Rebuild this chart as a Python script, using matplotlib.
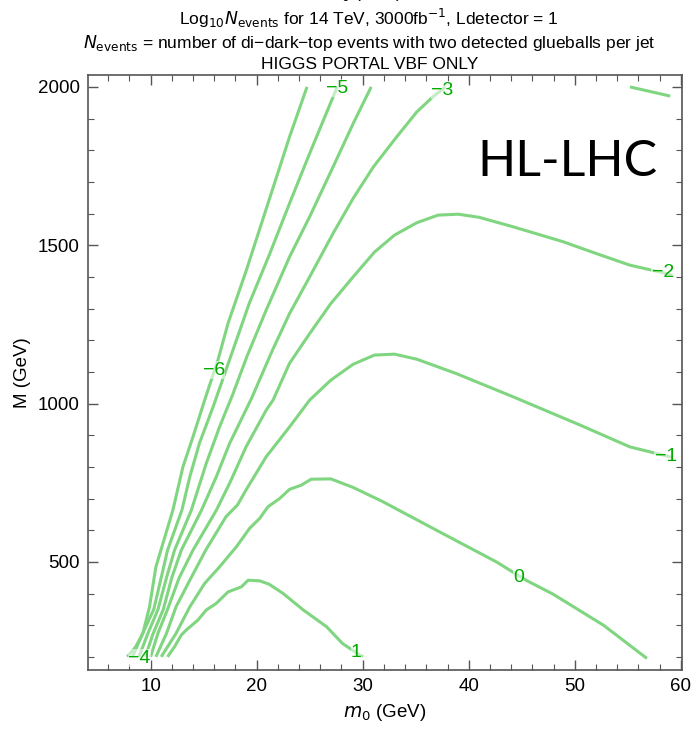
import matplotlib
matplotlib.use("Agg")
import matplotlib.pyplot as plt
from matplotlib.ticker import MultipleLocator

plt.rcParams['font.family'] = ['Liberation Sans', 'DejaVu Sans']

# ---- contour data (m0 [GeV], M [GeV]) ----
levels = [-6, -5, -4, -3, -2, -1, 0, 1]

c_m6_m0 = [7.8, 8.6, 9.27, 9.9, 10.5, 11.16, 12.1, 13.05, 14.0, 15.1, 16.35, 17.3, 19.03, 21.07, 23.1, 24.75]
c_m6_M  = [200, 232, 274, 358, 484, 558, 663, 800, 895, 1011, 1137, 1253, 1421, 1632, 1842, 2000]

c_m5_m0 = [8.3, 9.2, 10.3, 11.0, 11.6, 12.95, 13.7, 14.6, 15.9, 17.1, 18.3, 19.3, 21.2, 23.1, 25.0, 27.6]
c_m5_M  = [200, 270, 350, 450, 537, 663, 769, 874, 990, 1105, 1220, 1316, 1470, 1632, 1790, 2000]

c_m4_m0 = [8.9, 9.7, 10.7, 11.5, 12.26, 13.84, 15.25, 16.5, 17.76, 19.1, 20.9, 23.1, 25.0, 27.2, 29.1, 30.8]
c_m4_M  = [200, 270, 350, 450, 537, 663, 811, 926, 1030, 1150, 1295, 1463, 1590, 1747, 1884, 2000]

c_m3_m0 = [9.5, 10.2, 11.2, 12.0, 12.9, 14.8, 16.2, 17.45, 19.5, 21.5, 23.1, 25.0, 27.2, 29.1, 31.0, 33.2, 35.1, 36.6, 37.8]
c_m3_M  = [200, 270, 350, 450, 537, 663, 769, 874, 1015, 1169, 1284, 1400, 1537, 1648, 1747, 1842, 1921, 1968, 2000]

c_m3b_m0 = [55.2, 59.0]
c_m3b_M  = [2000, 1971]

c_m2_m0 = [10.0, 10.7, 11.6, 12.7, 14.0, 16.2, 17.45, 19.0, 20.9, 21.55, 23.1, 25.0, 27.0, 29.1, 31.1, 33.0, 35.1,
           37.1, 39.0, 41.0, 44.2, 48.9, 52.0, 55.2, 58.6, 59.2]
c_m2_M  = [200, 275, 350, 450, 537, 663, 748, 863, 979, 1011, 1127, 1221, 1316, 1400, 1478, 1532, 1571,
           1595, 1598, 1588, 1558, 1511, 1474, 1437, 1411, 1405]

c_m1_m0 = [10.5, 11.5, 12.4, 13.7, 15.2, 17.1, 18.2, 19.0, 20.9, 23.1, 25.0, 27.0, 29.1, 31.1, 33.0, 35.1,
           38.8, 44.2, 50.5, 55.2, 59.2]
c_m1_M  = [200, 274, 358, 442, 537, 642, 680, 727, 832, 926, 1011, 1074, 1124, 1153, 1156, 1140,
           1095, 1021, 932, 863, 830]

c_0_m0 = [11.0, 12.4, 13.7, 15.1, 16.5, 18.1, 19.34, 20.28, 21.07, 22.17, 23.1, 24.2, 25.14, 27.0, 29.1,
          31.9, 36.95, 42.6, 45.4, 47.95, 52.7, 56.8]
c_0_M  = [200, 274, 358, 432, 484, 548, 606, 637, 674, 700, 729, 742, 761, 762, 735,
          690, 600, 500, 442, 398, 300, 195]

c_1_m0 = [11.6, 12.26, 12.9, 13.37, 14.46, 15.25, 16.2, 17.3, 18.56, 19.2, 20.3, 21.2, 22.5, 24.4, 26.6, 28.1, 30.0]
c_1_M  = [200, 232, 269, 285, 316, 348, 369, 405, 421, 442, 440, 429, 400, 348, 295, 242, 200]

contours = [
    (c_m6_m0, c_m6_M), (c_m5_m0, c_m5_M), (c_m4_m0, c_m4_M), (c_m3_m0, c_m3_M),
    (c_m3b_m0, c_m3b_M), (c_m2_m0, c_m2_M), (c_m1_m0, c_m1_M), (c_0_m0, c_0_M), (c_1_m0, c_1_M),
]

# contour labels: text, m0, M
label_text = ["\u22126", "\u22125", "\u22124", "\u22123", "\u22122", "\u22121", "0", "1"]
label_m0   = [15.95, 27.55, 8.96, 37.5, 58.3, 58.6, 44.7, 29.4]
label_M    = [1105, 1996, 196, 1990, 1415, 834, 451, 215]

line_color = "#80D680"
label_color = "#00AA00"

fig = plt.figure(figsize=(6.93, 7.30), dpi=100)
ax = fig.add_axes([0.127, 0.082, 0.857, 0.815])

for xs, ys in contours:
    ax.plot(xs, ys, color=line_color, lw=2.2, solid_capstyle='butt', solid_joinstyle='round')

for t, x, y in zip(label_text, label_m0, label_M):
    ax.text(x, y, t, color=label_color, fontsize=14, ha='center', va='center',
            bbox=dict(boxstyle='square,pad=0.02', fc='white', ec='none', alpha=0.55))

ax.set_xlim(4.1, 60.1)
ax.set_ylim(158, 2037)

ax.xaxis.set_major_locator(MultipleLocator(10))
ax.xaxis.set_minor_locator(MultipleLocator(2))
ax.yaxis.set_major_locator(MultipleLocator(500))
ax.yaxis.set_minor_locator(MultipleLocator(100))
ax.tick_params(which='both', direction='in', top=True, right=True, labeltop=False, labelright=False,
               color='#555555', labelsize=13.5, pad=6)
ax.tick_params(which='major', length=7, width=1)
ax.tick_params(which='minor', length=4, width=0.8)
for s in ax.spines.values():
    s.set_color('#555555')
    s.set_linewidth(1.2)

ax.set_xlabel("$m_0$ (GeV)", fontsize=13.5, labelpad=5)
ax.set_ylabel("M (GeV)", fontsize=13.5, labelpad=5)

ax.text(49.3, 1762, "HL-LHC", fontsize=36, family=['Lato', 'DejaVu Sans'], ha='center', va='center',
        color='black')

# title lines (the first one is cut off at the top edge, as in the original)
fig.text(0.525, 1 + 2.0 / 730, "$m_0$ (GeV)", ha='center', va='baseline', fontsize=12.5)
fig.text(0.533, 1 - 25 / 730, "Log$_{10}$$N_{\\rm events}$ for 14 TeV, 3000fb$^{-1}$, Ldetector = 1",
         ha='center', va='baseline', fontsize=12.5)
fig.text(0.533, 1 - 48 / 730, "$N_{\\rm events}$ = number of di\u2212dark\u2212top events with two detected glueballs per jet",
         ha='center', va='baseline', fontsize=12.5)
fig.text(0.533, 1 - 69 / 730, "HIGGS PORTAL VBF ONLY", ha='center', va='baseline', fontsize=12.5)

fig.savefig("out.png", dpi=100)
